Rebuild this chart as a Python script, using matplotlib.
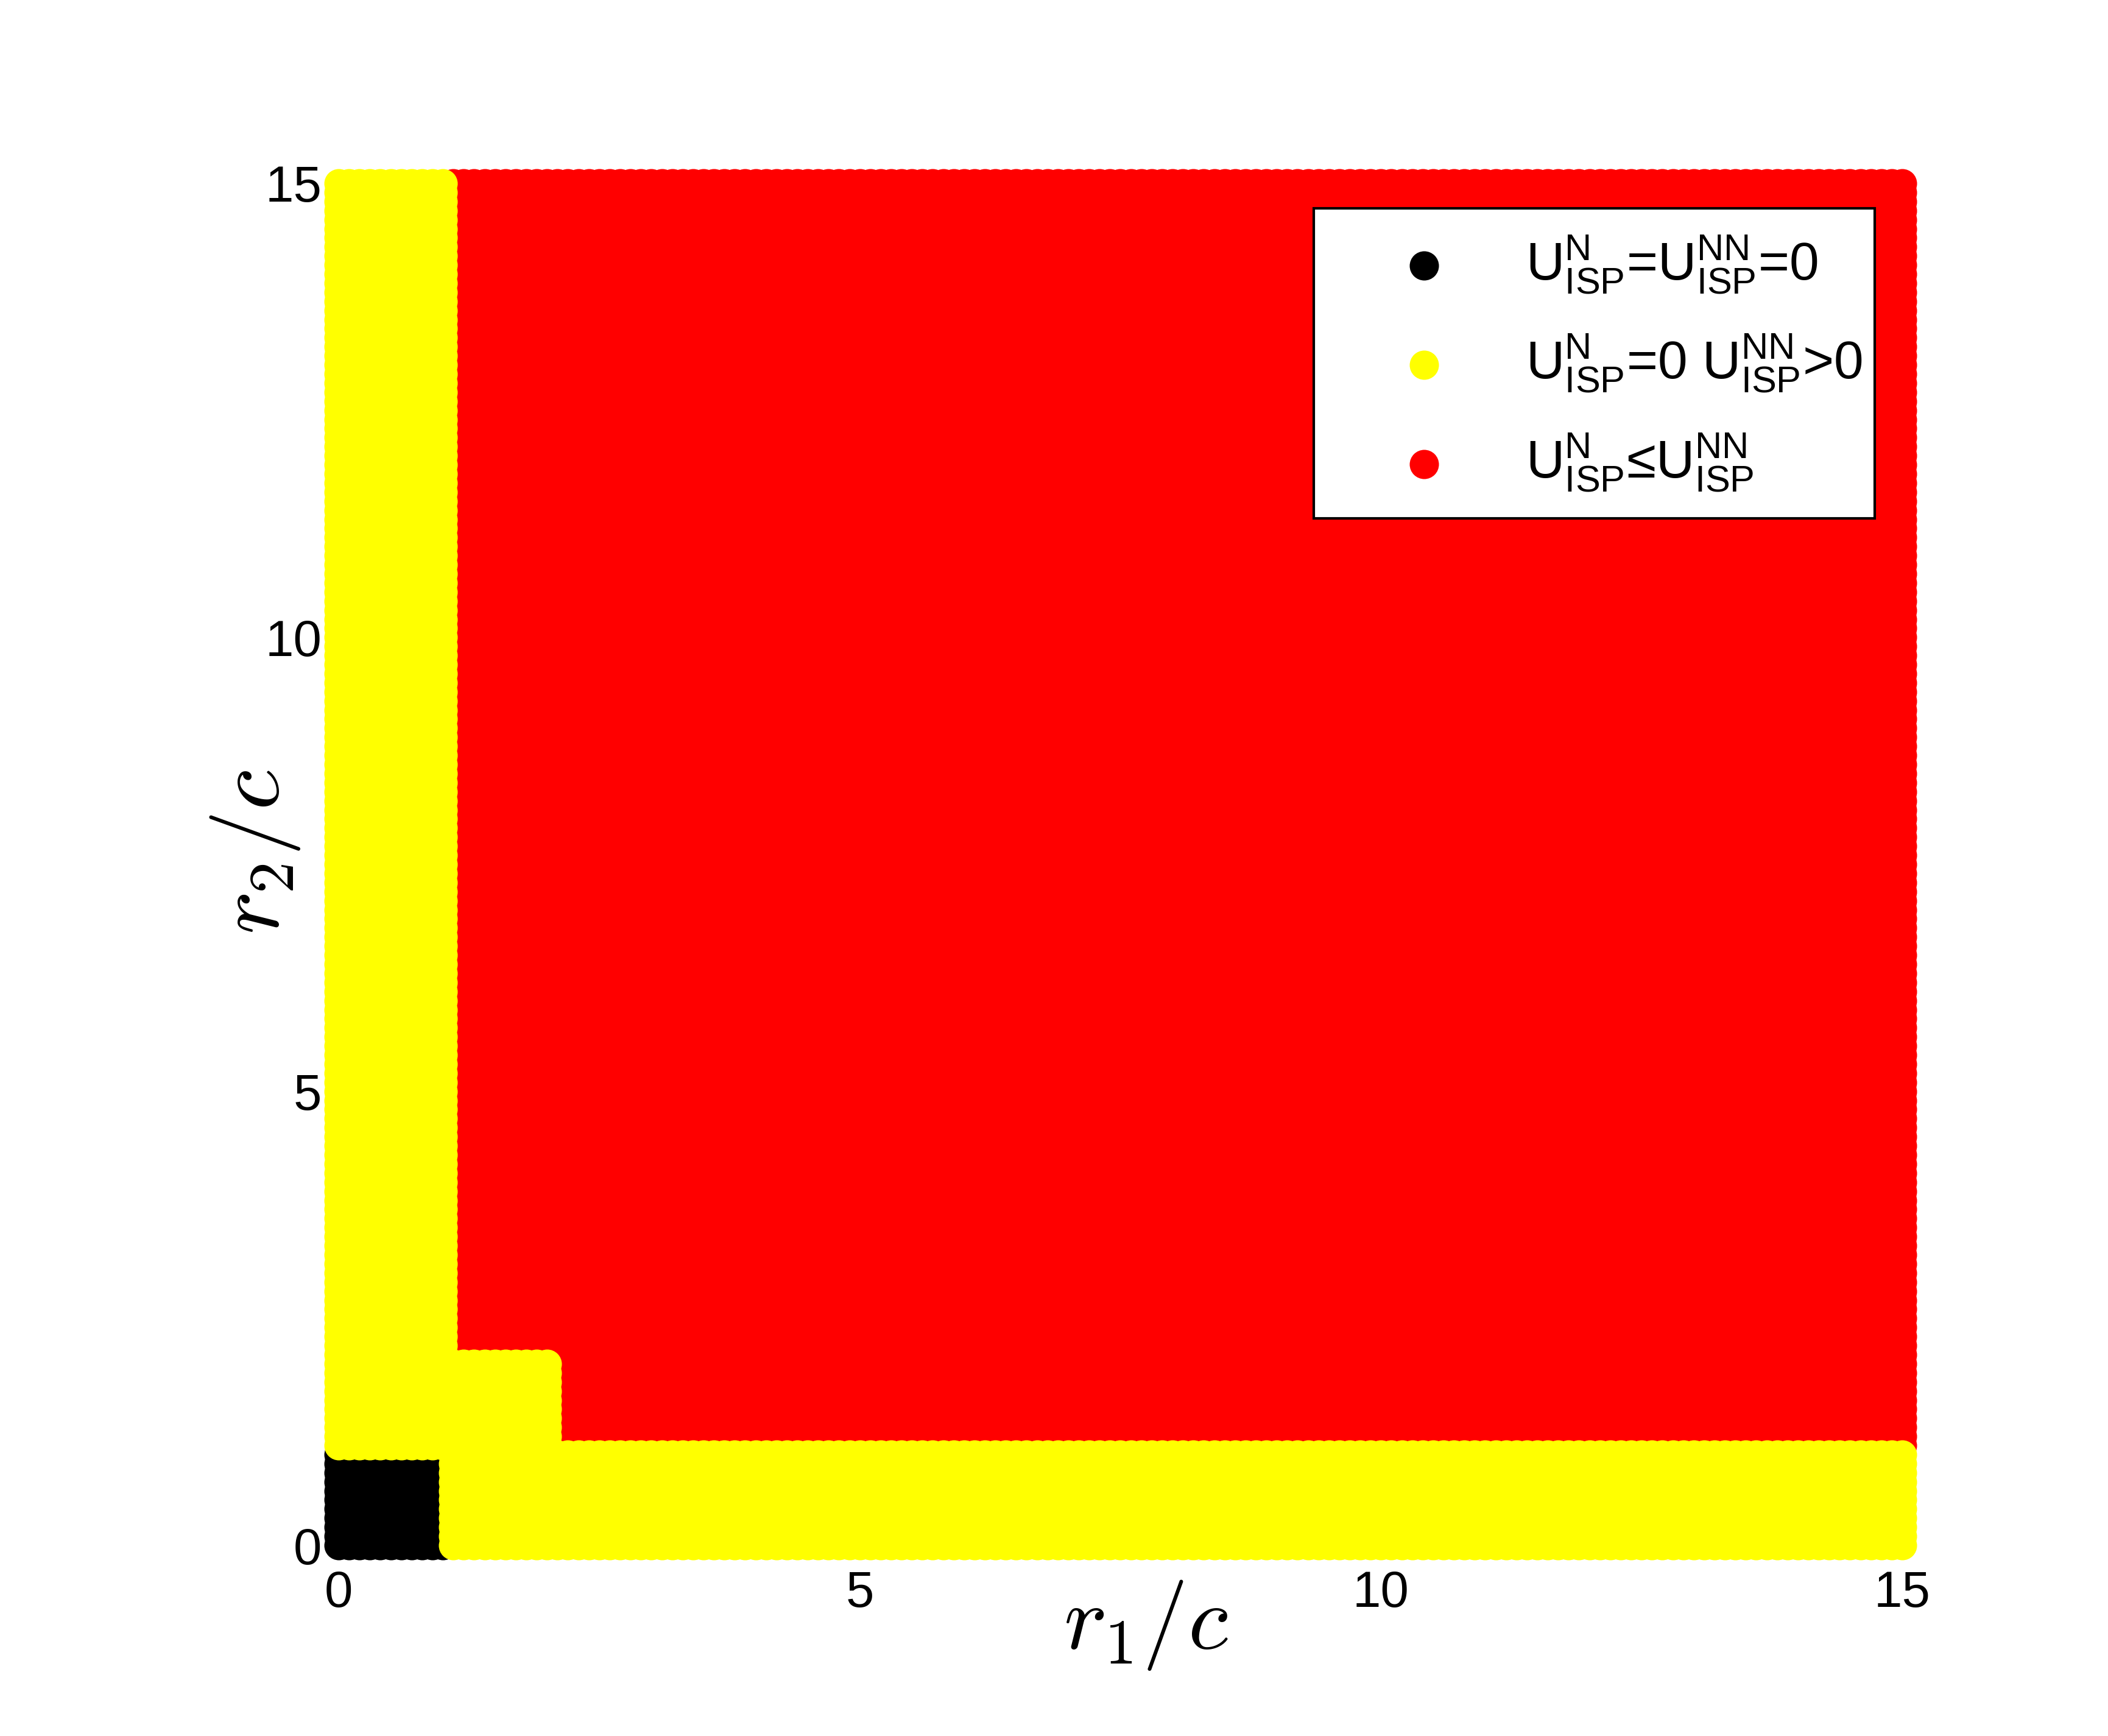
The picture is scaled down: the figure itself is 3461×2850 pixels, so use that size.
import numpy as np
import matplotlib
matplotlib.use("Agg")
import matplotlib.pyplot as plt

# sampled grid in r1/c and r2/c (step read from the scalloped edges)
grid_start = 0.0
grid_stop = 15.0
grid_step = 0.1

# region boundaries: [r1_min, r1_max, r2_min, r2_max]
black_boxes = [[0.0, 1.0, 0.0, 1.0]]
yellow_boxes = [[0.0, 1.0, 1.1, 15.0],
                [1.1, 15.0, 0.0, 1.0],
                [1.1, 2.0, 1.1, 2.0]]

labels = [r"$\mathregular{U^{N}_{ISP}}$=$\mathregular{U^{NN}_{ISP}}$=0",
          r"$\mathregular{U^{N}_{ISP}}$=0 $\mathregular{U^{NN}_{ISP}}$>0",
          r"$\mathregular{U^{N}_{ISP}}$≤$\mathregular{U^{NN}_{ISP}}$"]
colors = ["#000000", "#ffff00", "#ff0000"]

ticks = [0, 5, 10, 15]

plt.rcParams["font.family"] = ["Liberation Sans", "DejaVu Sans"]
plt.rcParams["mathtext.fontset"] = "custom"
plt.rcParams["mathtext.rm"] = "Liberation Sans"
plt.rcParams["mathtext.it"] = "Liberation Sans:italic"

r_vals = np.round(np.arange(grid_start, grid_stop + grid_step / 2, grid_step), 1)
R1, R2 = np.meshgrid(r_vals, r_vals)
R1 = R1.ravel()
R2 = R2.ravel()


def in_boxes(boxes):
    mask = np.zeros(R1.shape, dtype=bool)
    for x0, x1, y0, y1 in boxes:
        mask |= (R1 >= x0 - 1e-9) & (R1 <= x1 + 1e-9) & (R2 >= y0 - 1e-9) & (R2 <= y1 + 1e-9)
    return mask


black_mask = in_boxes(black_boxes)
yellow_mask = in_boxes(yellow_boxes) & ~black_mask
red_mask = ~(black_mask | yellow_mask)

fig = plt.figure(figsize=(11.54, 9.5), dpi=300)
ax = fig.add_axes([0.16060, 0.10982, 0.74148, 0.78457])

msize = 132.7  # ~48 px diameter markers
h_red = ax.scatter(R1[red_mask], R2[red_mask], s=msize, c=colors[2], linewidths=0, clip_on=False)
h_black = ax.scatter(R1[black_mask], R2[black_mask], s=msize, c=colors[0], linewidths=0, clip_on=False)
h_yellow = ax.scatter(R1[yellow_mask], R2[yellow_mask], s=msize, c=colors[1], linewidths=0, clip_on=False)

ax.set_xlim(0, 15)
ax.set_ylim(0, 15)
ax.set_xticks(ticks)
ax.set_yticks(ticks)
ax.tick_params(axis="both", length=0, labelsize=20)
ax.tick_params(axis="x", pad=9.5)
ax.tick_params(axis="y", pad=6.7)
for sp in ax.spines.values():
    sp.set_visible(False)
ax.set_facecolor("none")

# latex-looking axis labels
ax.set_xlabel(r"$r_1/c$", fontsize=36, math_fontfamily="cm")
ax.set_ylabel(r"$r_2/c$", fontsize=36, math_fontfamily="cm")
ax.xaxis.label.set_va("center")
ax.yaxis.label.set_va("center")
ax.xaxis.set_label_coords(0.5166, -0.0586)
ax.yaxis.set_label_coords(-0.0534, 0.5094)

leg = ax.legend([h_black, h_yellow, h_red], labels,
                loc="upper left", bbox_to_anchor=(0.6231, 0.7004, 0.2660, 0.1796),
                bbox_transform=fig.transFigure, mode="expand",
                fontsize=21, frameon=True, fancybox=False, framealpha=1,
                borderpad=0.47, handlelength=3.2, handletextpad=0.3,
                labelspacing=0.7, borderaxespad=0, scatterpoints=1)
leg.get_frame().set_edgecolor("black")
leg.get_frame().set_linewidth(1.0)

fig.savefig("out.png", dpi=300, facecolor="white")
